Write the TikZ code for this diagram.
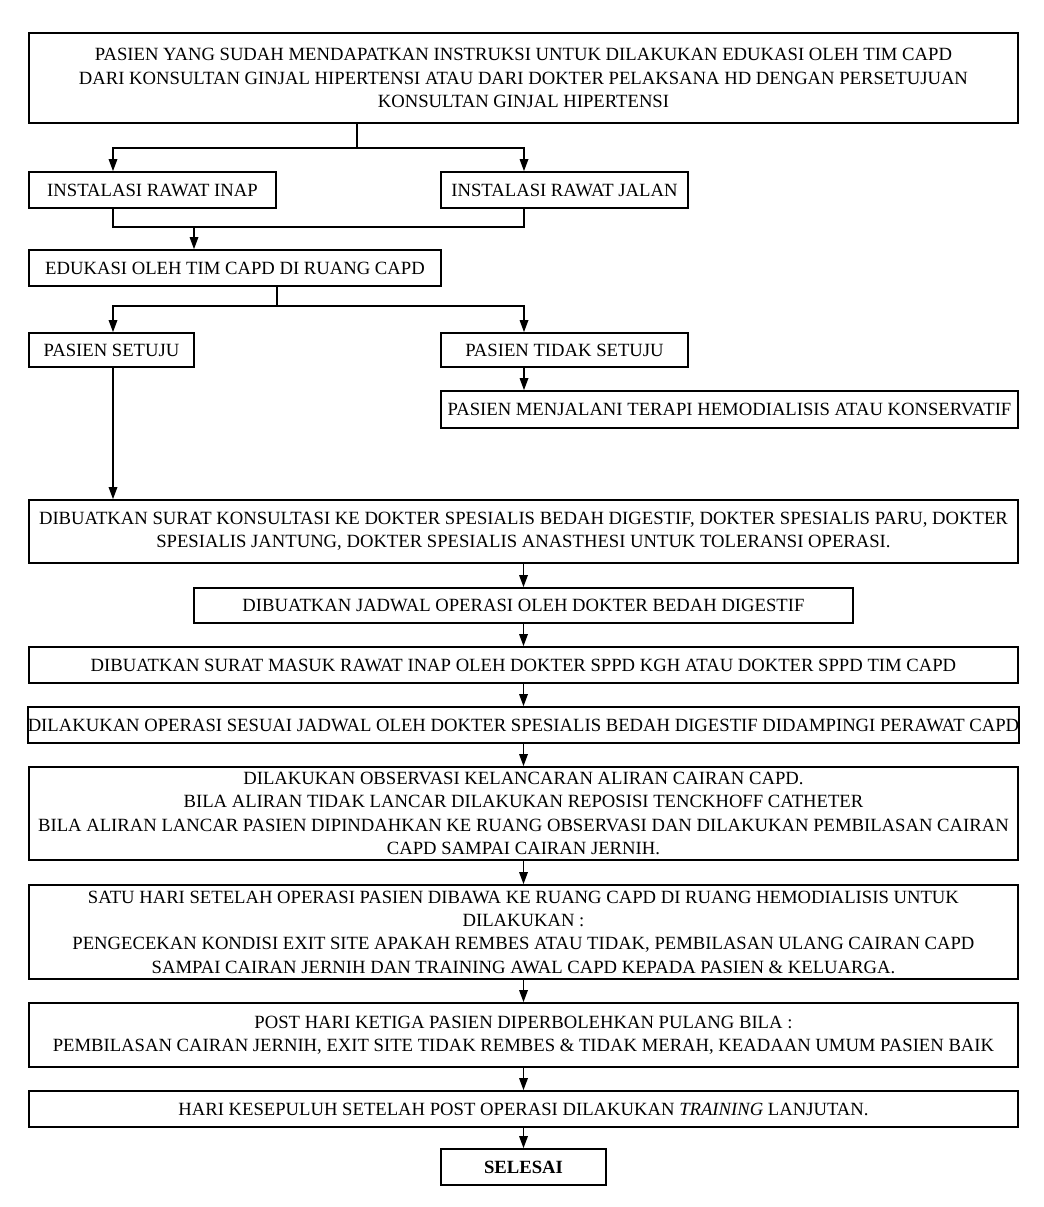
\documentclass[tikz,border=0pt]{standalone}
\usepackage{fontspec}
\setmainfont{Liberation Serif}
\usetikzlibrary{arrows.meta}

\begin{document}
\begin{tikzpicture}[x=0.75pt, y=-0.75pt,
  box/.style={draw, line width=1.4pt, inner sep=0pt, align=center,
    font=\fontsize{14}{17.5}\selectfont},
  wh/.style 2 args={minimum width=#1*0.75pt, minimum height=#2*0.75pt},
  ln/.style={line width=0.9pt},
  arr/.style={line width=0.9pt, -{Triangle[length=9pt, width=6.5pt]}}]
  \useasboundingbox (0,0) rectangle (1043,1207);
  \node[box, wh={989}{90}] (top) at (523.5,78)
    {PASIEN YANG SUDAH MENDAPATKAN INSTRUKSI UNTUK DILAKUKAN EDUKASI OLEH TIM CAPD\\
    DARI KONSULTAN GINJAL HIPERTENSI ATAU DARI DOKTER PELAKSANA HD DENGAN PERSETUJUAN\\
    KONSULTAN GINJAL HIPERTENSI};
  \node[box, wh={247}{36}] (inap) at (152.5,190) {INSTALASI RAWAT INAP};
  \node[box, wh={247}{36}] (jalan) at (564.5,190) {INSTALASI RAWAT JALAN};
  \node[box, wh={412}{36}] (edu) at (235,268) {EDUKASI OLEH TIM CAPD DI RUANG CAPD};
  \node[box, wh={165}{34}] (setuju) at (111.5,350) {PASIEN SETUJU};
  \node[box, wh={247}{34}] (tidak) at (564.5,350) {PASIEN TIDAK SETUJU};
  \node[box, wh={577}{37}] (terapi) at (729.5,409.5) {PASIEN MENJALANI TERAPI HEMODIALISIS ATAU KONSERVATIF};
  \node[box, wh={989}{63}] (konsul) at (523.5,531.5)
    {DIBUATKAN SURAT KONSULTASI KE DOKTER SPESIALIS BEDAH DIGESTIF, DOKTER SPESIALIS PARU, DOKTER\\
    SPESIALIS JANTUNG, DOKTER SPESIALIS ANASTHESI UNTUK TOLERANSI OPERASI.};
  \node[box, wh={659}{35}] (jadwal) at (523.5,605.5) {DIBUATKAN JADWAL OPERASI OLEH DOKTER BEDAH DIGESTIF};
  \node[box, wh={989}{36}] (masuk) at (523.5,665) {DIBUATKAN SURAT MASUK RAWAT INAP OLEH DOKTER SPPD KGH ATAU DOKTER SPPD TIM CAPD};
  \node[box, wh={989}{36}] (operasi) at (523.5,725) {DILAKUKAN OPERASI SESUAI JADWAL OLEH DOKTER SPESIALIS BEDAH DIGESTIF DIDAMPINGI PERAWAT CAPD};
  \node[box, wh={989}{93}] (obs) at (523.5,813.5)
    {DILAKUKAN OBSERVASI KELANCARAN ALIRAN CAIRAN CAPD.\\
    BILA ALIRAN TIDAK LANCAR DILAKUKAN REPOSISI TENCKHOFF CATHETER\\
    BILA ALIRAN LANCAR PASIEN DIPINDAHKAN KE RUANG OBSERVASI DAN DILAKUKAN PEMBILASAN CAIRAN\\
    CAPD SAMPAI CAIRAN JERNIH.};
  \node[box, wh={989}{94}] (satu) at (523.5,932)
    {SATU HARI SETELAH OPERASI PASIEN DIBAWA KE RUANG CAPD DI RUANG HEMODIALISIS UNTUK\\
    DILAKUKAN :\\
    PENGECEKAN KONDISI EXIT SITE APAKAH REMBES ATAU TIDAK, PEMBILASAN ULANG CAIRAN CAPD\\
    SAMPAI CAIRAN JERNIH DAN TRAINING AWAL CAPD KEPADA PASIEN \& KELUARGA.};
  \node[box, wh={989}{64}] (post) at (523.5,1035)
    {POST HARI KETIGA PASIEN DIPERBOLEHKAN PULANG BILA :\\
    PEMBILASAN CAIRAN JERNIH, EXIT SITE TIDAK REMBES \& TIDAK MERAH, KEADAAN UMUM PASIEN BAIK};
  \node[box, wh={989}{36}] (hari) at (523.5,1109) {HARI KESEPULUH SETELAH POST OPERASI DILAKUKAN \textit{TRAINING} LANJUTAN.};
  \node[box, wh={165}{36}] (selesai) at (523.5,1167) {\textbf{SELESAI}};

  % branch columns
  \coordinate (colL) at (113,0);
  \coordinate (colM) at (524,0);
  \coordinate (s1) at (357,148);
  \coordinate (s2) at (194,227);
  \coordinate (s3) at (277,306);

  \draw[ln] (top.south -| s1) -- (s1);
  \draw[arr] (s1) -| (colL |- inap.north);
  \draw[arr] (s1) -| (colM |- jalan.north);
  \draw[ln] (colL |- inap.south) -- (colL |- s2) -- (colM |- s2) -- (colM |- jalan.south);
  \draw[arr] (s2) -- (s2 |- edu.north);
  \draw[ln] (edu.south -| s3) -- (s3);
  \draw[arr] (s3) -| (colL |- setuju.north);
  \draw[arr] (s3) -| (colM |- tidak.north);
  \draw[arr] (colM |- tidak.south) -- (colM |- terapi.north);
  \draw[arr] (colL |- setuju.south) -- (colL |- konsul.north);

  % main chain
  \foreach \a/\b in {konsul/jadwal, jadwal/masuk, masuk/operasi, operasi/obs,
                     obs/satu, satu/post, post/hari, hari/selesai}
    { \draw[arr] (\a.south) -- (\b.north); }
\end{tikzpicture}
\end{document}
